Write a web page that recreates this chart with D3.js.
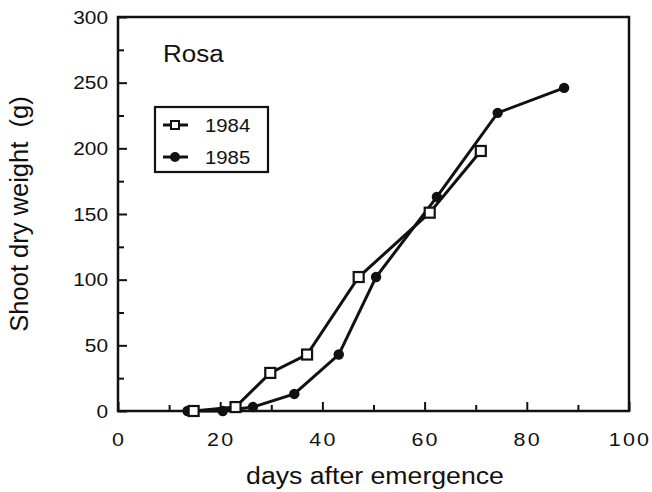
<!DOCTYPE html>
<html><head><meta charset="utf-8">
<script src="https://cdn.jsdelivr.net/npm/d3@7"></script>
<style>body{margin:0;background:#fff}svg{display:block}text{font-family:"Liberation Sans",Arial,sans-serif;fill:#111}</style>
</head><body><svg id="c" width="652" height="492"></svg>
<script>
const days1984 = [14.8, 23, 29.8, 37, 47.1, 61, 71];
const weight1984 = [0, 3, 29, 43, 102, 151, 198];
const days1985 = [13.6, 20.5, 26.4, 34.5, 43.2, 50.5, 62.4, 74.3, 87.3];
const weight1985 = [0, 0, 3, 13, 43, 102, 163, 227, 246];
const xTicks = [0, 20, 40, 60, 80, 100];
const yTicks = [0, 50, 100, 150, 200, 250, 300];
const seriesNames = ["1984", "1985"];

const svg = d3.select("#c");
const L = 118, R = 629, T = 17, B = 411;
const x = d3.scaleLinear().domain([0, 100]).range([L, R]);
const y = d3.scaleLinear().domain([0, 300]).range([B, T]);
const ink = "#111";
const SX = 1.13;

// frame
svg.append("rect").attr("x", L).attr("y", T).attr("width", R - L).attr("height", B - T)
  .attr("fill", "none").attr("stroke", ink).attr("stroke-width", 2.5);

// y axis ticks inward
const yAx = svg.append("g").attr("transform", `translate(${L},0)`)
  .call(d3.axisRight(y).tickValues(d3.range(0, 301, 25)).tickSize(8).tickFormat(""));
yAx.select(".domain").remove();
yAx.selectAll("line").attr("stroke", ink).attr("stroke-width", 2)
  .attr("x2", d => d % 50 === 0 ? 9 : 6);
svg.append("g").selectAll("text").data(yTicks).join("text")
  .attr("transform", d => `translate(108,${y(d) + 6.5}) scale(${SX},1)`)
  .attr("text-anchor", "end").attr("font-size", 18.5).text(d => d);

// x axis ticks inward
const xAx = svg.append("g").attr("transform", `translate(0,${B})`)
  .call(d3.axisTop(x).tickValues(d3.range(0, 101, 10)).tickSize(8).tickFormat(""));
xAx.select(".domain").remove();
xAx.selectAll("line").attr("stroke", ink).attr("stroke-width", 2)
  .attr("y2", d => d % 20 === 0 ? -9 : -6);
svg.append("g").selectAll("text").data(xTicks).join("text")
  .attr("transform", d => `translate(${x(d) + 1},446) scale(${SX},1)`)
  .attr("text-anchor", "middle").attr("font-size", 19).attr("letter-spacing", 2).text(d => d);

// axis titles
svg.append("text").attr("transform", `translate(375,484) scale(1.16,1)`).attr("text-anchor", "middle")
  .attr("font-size", 23).text("days after emergence");
svg.append("text").attr("transform", "translate(28,214) rotate(-90)").attr("text-anchor", "middle")
  .attr("font-size", 25.5).style("white-space", "pre").text("Shoot dry weight  (g)");

svg.append("text").attr("transform", `translate(163,62) scale(${SX},1)`).attr("font-size", 23).text("Rosa");

const line = d3.line().x(d => x(d[0])).y(d => y(d[1]));
const d84 = days1984.map((d, i) => [d, weight1984[i]]);
const d85 = days1985.map((d, i) => [d, weight1985[i]]);

svg.append("path").datum(d85).attr("d", line).attr("fill", "none").attr("stroke", ink).attr("stroke-width", 3);
svg.append("path").datum(d84).attr("d", line).attr("fill", "none").attr("stroke", ink).attr("stroke-width", 3);

svg.append("g").selectAll("circle").data(d85).join("circle")
  .attr("cx", d => x(d[0])).attr("cy", d => y(d[1])).attr("r", 5.2).attr("fill", ink);
svg.append("g").selectAll("rect").data(d84).join("rect")
  .attr("x", d => x(d[0]) - 5).attr("y", d => y(d[1]) - 5).attr("width", 10).attr("height", 10)
  .attr("fill", "#fff").attr("stroke", ink).attr("stroke-width", 2.2);

// legend
const lg = svg.append("g");
lg.append("rect").attr("x", 155).attr("y", 107).attr("width", 113).attr("height", 65)
  .attr("fill", "#fff").attr("stroke", ink).attr("stroke-width", 2.2);
seriesNames.forEach((n, i) => {
  const yy = 125 + i * 32;
  lg.append("line").attr("x1", 163).attr("x2", 188).attr("y1", yy).attr("y2", yy)
    .attr("stroke", ink).attr("stroke-width", 3);
  if (i === 0) {
    lg.append("rect").attr("x", 171).attr("y", yy - 4).attr("width", 8).attr("height", 8)
      .attr("fill", "#fff").attr("stroke", ink).attr("stroke-width", 2);
  } else {
    lg.append("circle").attr("cx", 175).attr("cy", yy).attr("r", 5).attr("fill", ink);
  }
  lg.append("text").attr("transform", `translate(205,${yy + 7}) scale(${SX},1)`)
    .attr("font-size", 18).text(n);
});
</script></body></html>
